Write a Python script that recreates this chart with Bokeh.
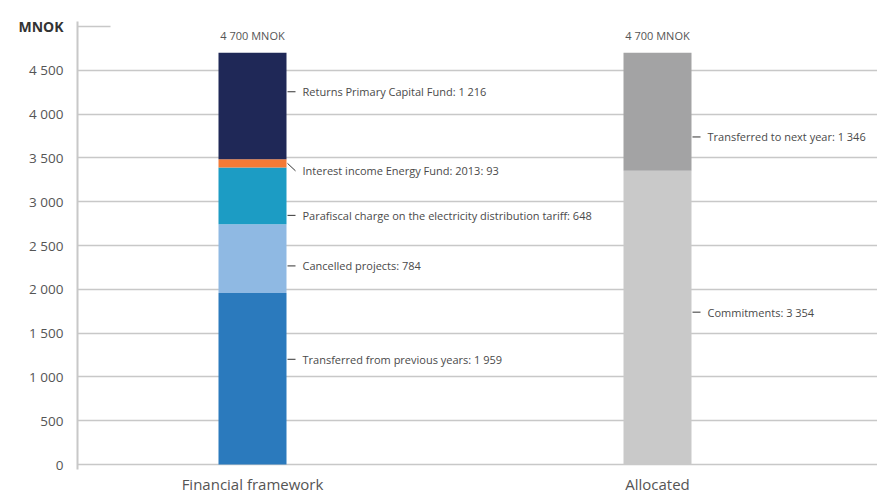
from bokeh.plotting import figure
from bokeh.models import Range1d, FixedTicker, LinearAxis, ColumnDataSource
from bokeh.core.properties import value
from bokeh.embed import file_html
from bokeh.resources import INLINE

# ---------------- data ----------------
categories = ["Financial framework", "Allocated"]

ff_names = [
    "Transferred from previous years",
    "Cancelled projects",
    "Parafiscal charge on the electricity distribution tariff",
    "Interest income Energy Fund: 2013",
    "Returns Primary Capital Fund",
]
ff_values = [1959, 784, 648, 93, 1216]
ff_colors = ["#2b7abd", "#8fb9e3", "#1c9cc4", "#f47a36", "#1f2857"]

alloc_names = ["Commitments", "Transferred to next year"]
alloc_values = [3354, 1346]
alloc_colors = ["#c9c9c9", "#a3a3a4"]

yticks = [0, 500, 1000, 1500, 2000, 2500, 3000, 3500, 4000, 4500]
ytick_labels = ["0", "500", "1 000", "1 500", "2 000", "2 500", "3 000", "3 500", "4 000", "4 500"]
unit_tick = 5000
unit_label = "MNOK"

# label anchor levels (data units) as placed in the original chart
ff_label_y = [1201, 2267, 2844, 3352, 4255]
alloc_label_y = [1739, 3739]

# ---------------- layout ----------------
FONT = "Open Sans"
TEXT = "#4a4a4a"
GRID = "#c8c8c8"
PX = 1 / 405.0          # one pixel in x data units
BAR_W = 68 * PX
X0, X1 = -0.4321, 1.5432


def fmt(v):
    return f"{v:,}".replace(",", " ")


p = figure(width=877, height=496, output_backend="svg", toolbar_location=None,
           x_range=Range1d(X0, X1), y_range=Range1d(-57, 5057),
           min_border_left=77, min_border_right=0, min_border_top=21,
           min_border_bottom=25)
p.outline_line_color = None
p.background_fill_color = "white"
p.border_fill_color = "white"

p.xgrid.visible = False
p.ygrid.ticker = FixedTicker(ticks=yticks)
p.ygrid.grid_line_color = GRID
p.ygrid.grid_line_width = 1.3

p.yaxis.ticker = FixedTicker(ticks=yticks)
p.yaxis.major_label_overrides = dict(zip(yticks, ytick_labels))
p.yaxis.axis_line_color = GRID
p.yaxis.axis_line_width = 2
p.yaxis.major_tick_line_color = None
p.yaxis.minor_tick_line_color = None
p.yaxis.major_tick_in = 0
p.yaxis.major_tick_out = 0
p.yaxis.major_label_standoff = 14
p.yaxis.major_label_text_font = FONT
p.yaxis.major_label_text_font_size = "13.5px"
p.yaxis.major_label_text_color = "#555555"

# second (outer) left axis carrying only the bold unit label at the 5000 level
unit_axis = LinearAxis(ticker=FixedTicker(ticks=[unit_tick]),
                       major_label_overrides={unit_tick: unit_label},
                       axis_line_color=None, major_tick_line_color=None,
                       minor_tick_line_color=None, major_tick_in=0, major_tick_out=0,
                       major_label_standoff=-37, major_label_text_font=FONT,
                       major_label_text_font_size="14px",
                       major_label_text_font_style="bold",
                       major_label_text_color="#333333")
p.add_layout(unit_axis, "left")

p.xaxis.ticker = FixedTicker(ticks=list(range(len(categories))))
p.xaxis.major_label_overrides = {i: c for i, c in enumerate(categories)}
p.xaxis.axis_line_color = None
p.xaxis.major_tick_line_color = None
p.xaxis.minor_tick_line_color = None
p.xaxis.major_tick_in = 0
p.xaxis.major_tick_out = 0
p.xaxis.major_label_standoff = 4
p.xaxis.major_label_text_font = FONT
p.xaxis.major_label_text_font_size = "15px"
p.xaxis.major_label_text_color = "#555555"

# short top gridline at 5000
p.segment(x0=[X0], y0=[unit_tick], x1=[X0 + 33 * PX], y1=[unit_tick], line_color=GRID, line_width=1.3)


def stack(xpos, names, values, colors, label_y):
    bottoms, tops = [], []
    acc = 0
    for v in values:
        bottoms.append(acc)
        acc += v
        tops.append(acc)
    src = ColumnDataSource(dict(x=[xpos] * len(values), bottom=bottoms, top=tops, color=colors))
    p.vbar(x="x", bottom="bottom", top="top", width=BAR_W, fill_color="color",
           line_color=None, source=src)
    # leaders
    edge = xpos + BAR_W / 2
    y0s = []
    for b, t, ly in zip(bottoms, tops, label_y):
        y0s.append(ly if b <= ly <= t else (b + t) / 2)
    p.segment(x0=[edge + 1 * PX] * len(values), y0=y0s,
              x1=[edge + 9 * PX] * len(values), y1=label_y,
              line_color="#333333", line_width=1)
    texts = [f"{n}: {fmt(v)}" for n, v in zip(names, values)]
    p.text(x=[edge + 16 * PX] * len(values), y=label_y, text=texts,
           text_font=value(FONT), text_font_size="11px", text_color=TEXT,
           text_baseline="middle", text_align="left")
    # total above bar
    p.text(x=[xpos], y=[acc], text=[f"{fmt(acc)} {unit_label}"],
           text_font=value(FONT), text_font_size="11px", text_color="#555555",
           text_baseline="middle", text_align="center", y_offset=-17)


stack(0, ff_names, ff_values, ff_colors, ff_label_y)
stack(1, alloc_names, alloc_values, alloc_colors, alloc_label_y)

open("out.html", "w").write(file_html(p, INLINE))
